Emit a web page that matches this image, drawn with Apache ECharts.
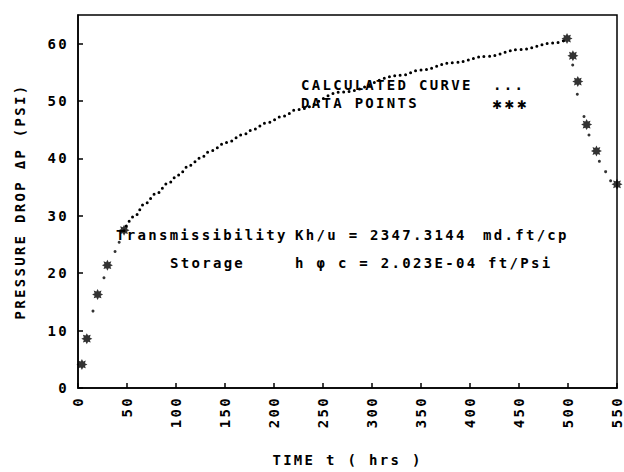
<!DOCTYPE html>
<html><head><meta charset="utf-8">
<script src="https://cdn.jsdelivr.net/npm/echarts@6/dist/echarts.min.js"></script>
<style>
html,body{margin:0;padding:0;background:#fff;}
#chart{width:624px;height:472px;}
#chart text{letter-spacing:2.3px;}
</style></head><body><div id="chart"></div>
<script>
// axis ticks
const xTicks = [0, 50, 100, 150, 200, 250, 300, 350, 400, 450, 500, 550];
const yTicks = [0, 10, 20, 30, 40, 50, 60];
const yTop = 65;

// DATA POINTS (stars)
const starX = [4, 9, 20, 30, 47, 499, 505, 510, 519, 529, 550];
const starY = [4.1, 8.6, 16.3, 21.4, 27.5, 60.9, 57.9, 53.4, 45.9, 41.3, 35.5];

// CALCULATED CURVE - continuous dotted part
const curveX = [47, 58, 68, 80, 92, 102, 114, 125, 135, 152, 169, 179, 192, 210, 223, 270, 330, 349, 383, 417, 451, 485, 499];
const curveY = [27.4, 30.0, 32.1, 33.9, 35.7, 37.1, 38.8, 40.1, 41.3, 42.8, 44.2, 45.1, 46.2, 47.4, 48.5, 51.6, 54.5, 55.4, 56.7, 57.8, 59.0, 60.1, 60.8];

// CALCULATED CURVE - sparse computed dots
const dotX = [15.3, 26.5, 37.8, 42, 504.8, 509.5, 516.3, 521.4, 532, 538.4, 543.5];
const dotY = [13.4, 19.2, 23.8, 25.4, 56.3, 51.2, 47.3, 44.1, 39.5, 37.7, 36.1];

const FONT = 'bold 14px "DejaVu Sans Mono", monospace';
const fontBase = {fontFamily: '"DejaVu Sans Mono", monospace', fontWeight: 'bold', fontSize: 14, color: '#000'};
const starPath = 'path://M10,0L12.3,4.5L17.07,2.93L15.5,7.7L20,10L15.5,12.3L17.07,17.07L12.3,15.5L10,20L7.7,15.5L2.93,17.07L4.5,12.3L0,10L4.5,7.7L2.93,2.93L7.7,4.5Z';

const zip = (a, b) => a.map((v, i) => [v, b[i]]);

const chart = echarts.init(document.getElementById('chart'), null, {renderer: 'svg'});
chart.setOption({
  animation: false,
  backgroundColor: '#fff',
  grid: {left: 78, right: 7, top: 15, bottom: 79, show: true, borderColor: '#000', borderWidth: 1.5},
  xAxis: {
    type: 'value', min: xTicks[0], max: xTicks[xTicks.length - 1], interval: xTicks[1] - xTicks[0],
    name: 'TIME t ( hrs )', nameLocation: 'middle', nameGap: 65,
    nameTextStyle: fontBase,
    axisLine: {lineStyle: {color: '#000', width: 1.5}},
    axisTick: {inside: true, length: 5, lineStyle: {color: '#000', width: 1.5}},
    axisLabel: Object.assign({rotate: 90, margin: 8}, fontBase),
    splitLine: {show: false}
  },
  yAxis: {
    type: 'value', min: yTicks[0], max: yTop, interval: yTicks[1] - yTicks[0],
    name: 'PRESSURE DROP ΔP (PSI)', nameLocation: 'middle', nameGap: 51,
    nameTextStyle: fontBase,
    axisLine: {lineStyle: {color: '#000', width: 1.5}},
    axisTick: {inside: true, length: 5, lineStyle: {color: '#000', width: 1.5}},
    axisLabel: Object.assign({margin: 9, showMaxLabel: false,
      formatter: v => yTicks.indexOf(v) >= 0 ? String(v) : ''}, fontBase),
    splitLine: {show: false}
  },
  series: [
    {
      name: 'CALCULATED CURVE', type: 'line', data: zip(curveX, curveY),
      showSymbol: false, smooth: 0.4, smoothMonotone: 'x', silent: true,
      lineStyle: {color: '#000', width: 3, type: [0, 5.4], cap: 'round'}
    },
    {
      name: 'CALCULATED CURVE dots', type: 'scatter', data: zip(dotX, dotY),
      symbol: 'circle', symbolSize: 3, itemStyle: {color: '#000'}, silent: true
    },
    {
      name: 'DATA POINTS', type: 'scatter', data: zip(starX, starY),
      symbol: starPath, symbolSize: 11, itemStyle: {color: '#000'}, silent: true, z: 5
    }
  ],
  graphic: [
    {type: 'text', x: 301, y: 85, style: {text: 'CALCULATED CURVE', font: FONT, fill: '#000', align: 'left', verticalAlign: 'middle'}},
    {type: 'text', x: 493, y: 85, style: {text: '...', font: FONT, fill: '#000', align: 'left', verticalAlign: 'middle'}},
    {type: 'text', x: 301, y: 103, style: {text: 'DATA POINTS', font: FONT, fill: '#000', align: 'left', verticalAlign: 'middle'}},
    {type: 'text', x: 492, y: 105, style: {text: '✱✱✱', font: 'bold 12px "DejaVu Sans", sans-serif', fill: '#000', align: 'left', verticalAlign: 'middle'}},
    {type: 'text', x: 116, y: 235, style: {text: 'Transmissibility', font: FONT, fill: '#000', align: 'left', verticalAlign: 'middle'}},
    {type: 'text', x: 295, y: 235, style: {text: 'Kh/u = 2347.3144', font: FONT, fill: '#000', align: 'left', verticalAlign: 'middle'}},
    {type: 'text', x: 483, y: 235, style: {text: 'md.ft/cp', font: FONT, fill: '#000', align: 'left', verticalAlign: 'middle'}},
    {type: 'text', x: 170, y: 263, style: {text: 'Storage', font: FONT, fill: '#000', align: 'left', verticalAlign: 'middle'}},
    {type: 'text', x: 295, y: 263, style: {text: 'h φ c = 2.023E-04 ft/Psi', font: FONT, fill: '#000', align: 'left', verticalAlign: 'middle'}}
  ]
});
</script></body></html>
